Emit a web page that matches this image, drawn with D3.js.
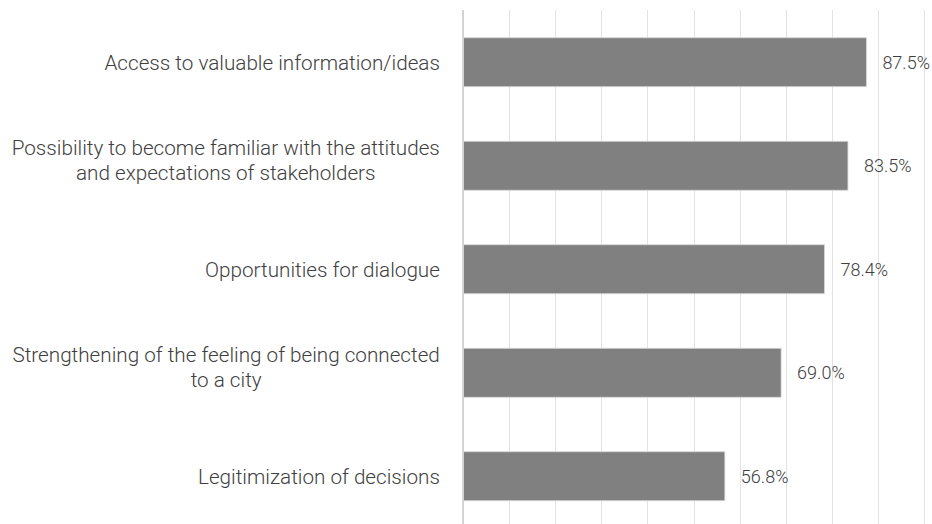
<!DOCTYPE html>
<html><head><meta charset="utf-8">
<script src="https://cdn.jsdelivr.net/npm/d3@7"></script>
<style>
html,body{margin:0;padding:0;background:#fff;}
svg{display:block;}
text{font-family:Roboto,"Noto Sans",sans-serif;font-weight:300;fill:#404040;}
</style></head>
<body>
<svg id="chart" width="932" height="524"></svg>
<script>
const categories = [
  "Access to valuable information/ideas",
  "Possibility to become familiar with the attitudes\nand expectations of stakeholders",
  "Opportunities for dialogue",
  "Strengthening of the feeling of being connected\nto a city",
  "Legitimization of decisions"
];
const values = [0.875, 0.835, 0.784, 0.690, 0.568];
const valueLabels = ["87.5%", "83.5%", "78.4%", "69.0%", "56.8%"];
const xTicks = [0, 0.1, 0.2, 0.3, 0.4, 0.5, 0.6, 0.7, 0.8, 0.9, 1.0];

const W = 932, H = 524;
const svg = d3.select("#chart");
const x = d3.scaleLinear().domain([0, 1]).range([463, 924]);
const y = d3.scaleBand().domain(categories).range([10.5, 528]).paddingInner(0.527).paddingOuter(0.2635);

// gridlines
svg.append("g").selectAll("line").data(xTicks.slice(1)).join("line")
  .attr("x1", d => Math.round(x(d)) + 0.5).attr("x2", d => Math.round(x(d)) + 0.5)
  .attr("y1", 10).attr("y2", H)
  .attr("stroke", "#e3e3e3").attr("stroke-width", 1);

// bars
svg.append("g").selectAll("rect").data(values).join("rect")
  .attr("x", x(0)).attr("y", (d, i) => y(categories[i]))
  .attr("width", d => x(d) - x(0)).attr("height", y.bandwidth())
  .attr("fill", "#808080").attr("stroke", "#d6d6d6").attr("stroke-width", 0.8);

// axis line
svg.append("line").attr("x1", 463).attr("x2", 463).attr("y1", 10).attr("y2", H)
  .attr("stroke", "#d4d4d4").attr("stroke-width", 2);

const SX = 0.985;
const FS = 21;

// value labels
svg.append("g").selectAll("text").data(values).join("text")
  .attr("transform", (d, i) => `translate(${x(d) + 16},${y(categories[i]) + y.bandwidth()/2}) scale(${SX},1)`)
  .attr("dy", "0.35em").attr("font-size", 18.3)
  .text((d, i) => valueLabels[i]);

// category labels
const right = 440;
const lineH = 24.5;
categories.forEach((c, i) => {
  const lines = c.split("\n");
  const g = svg.append("g");
  const t = g.append("text").attr("font-size", FS).attr("text-anchor", "middle");
  lines.forEach((ln, j) => {
    t.append("tspan").attr("x", 0).attr("y", (j - (lines.length - 1) / 2) * lineH).attr("dy", "0.35em").text(ln);
  });
  const maxW = d3.max(t.selectAll("tspan").nodes(), n => n.getComputedTextLength()) * SX;
  const shift = lines.length > 1 ? -5.5 : 0;
  g.attr("transform", `translate(${right - maxW / 2},${y(c) + y.bandwidth() / 2 + shift}) scale(${SX},1)`);
});
</script>
</body></html>
